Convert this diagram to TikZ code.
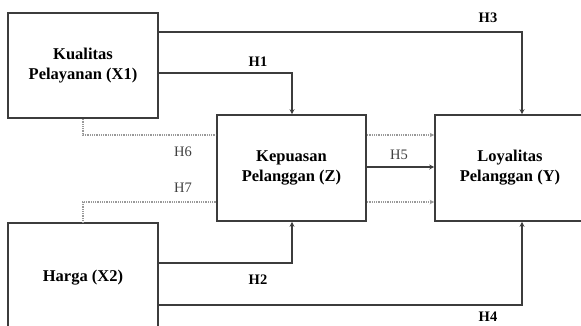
\documentclass[tikz,border=0pt]{standalone}
\usepackage{fontspec}
\setmainfont{Liberation Serif}
\usetikzlibrary{arrows.meta,calc}
\definecolor{ln}{HTML}{3C3C3C}
\tikzset{
  box/.style={draw=ln, line width=1.6pt, align=center, inner sep=0pt,
    font=\fontsize{16.5}{20}\selectfont\bfseries},
  arr/.style={draw=ln, line width=1.5pt, -{Stealth[length=5pt,width=5pt]}},
  dots/.style={draw=gray!80, line width=1.4pt, dash pattern=on 0.9pt off 0.9pt, -{Stealth[length=4.5pt,width=4.5pt]}},
  dotsn/.style={draw=gray!80, line width=1.4pt, dash pattern=on 0.9pt off 0.9pt},
  hb/.style={font=\fontsize{14.5}{17}\selectfont\bfseries, text=black},
  hr/.style={font=\fontsize{14.5}{17}\selectfont, text=black!75}
}
\begin{document}
\begin{tikzpicture}[x=1pt,y=-1pt]
\useasboundingbox (0,0) rectangle (581,325);
\fill[white] (0,0) rectangle (581,325);
\clip (0,0) rectangle (581,325);
\node[box, minimum width=150pt, minimum height=105pt] (X1) at (83,65.5) {Kualitas\\Pelayanan (X1)};
\node[box, minimum width=150pt, minimum height=110pt] (X2) at (83,278) {Harga (X2)};
\node[box, minimum width=149pt, minimum height=106pt] (Z) at (291.5,168) {Kepuasan\\Pelanggan (Z)};
\node[box, minimum width=150pt, minimum height=106pt] (Y) at (510,168) {Loyalitas\\Pelanggan (Y)};
% solid connectors
\draw[arr] (X1.east |- 0,32) -| (522,0 |- Y.north);
\draw[arr] (X1.east |- 0,73) -| (292,0 |- Z.north);
\draw[arr] (X2.east |- 0,263) -| (292,0 |- Z.south);
\draw[arr] (X2.east |- 0,305) -| (522,0 |- Y.south);
\draw[arr] (Z.east |- 0,167) -- (Y.west |- 0,167);
% dotted connectors
\draw[dotsn] (83,0 |- X1.south) |- (Z.west |- 0,135);
\draw[dotsn] (Z.west |- 0,202) -| (83,0 |- X2.north);
\draw[dots] (Z.east |- 0,135) -- (Y.west |- 0,135);
\draw[dots] (Z.east |- 0,202) -- (Y.west |- 0,202);
% labels
\node[hb] (h3) at (488,18) {H3};
\node[hb] (h1) at (258,62) {H1};
\node[hr] (h6) at (183,152) {H6};
\node[hr] (h5) at (399,155) {H5};
\node[hr] (h7) at (183,188) {H7};
\node[hb] (h2) at (258,280) {H2};
\node[hb] (h4) at (488,316.5) {H4};
\end{tikzpicture}
\end{document}
